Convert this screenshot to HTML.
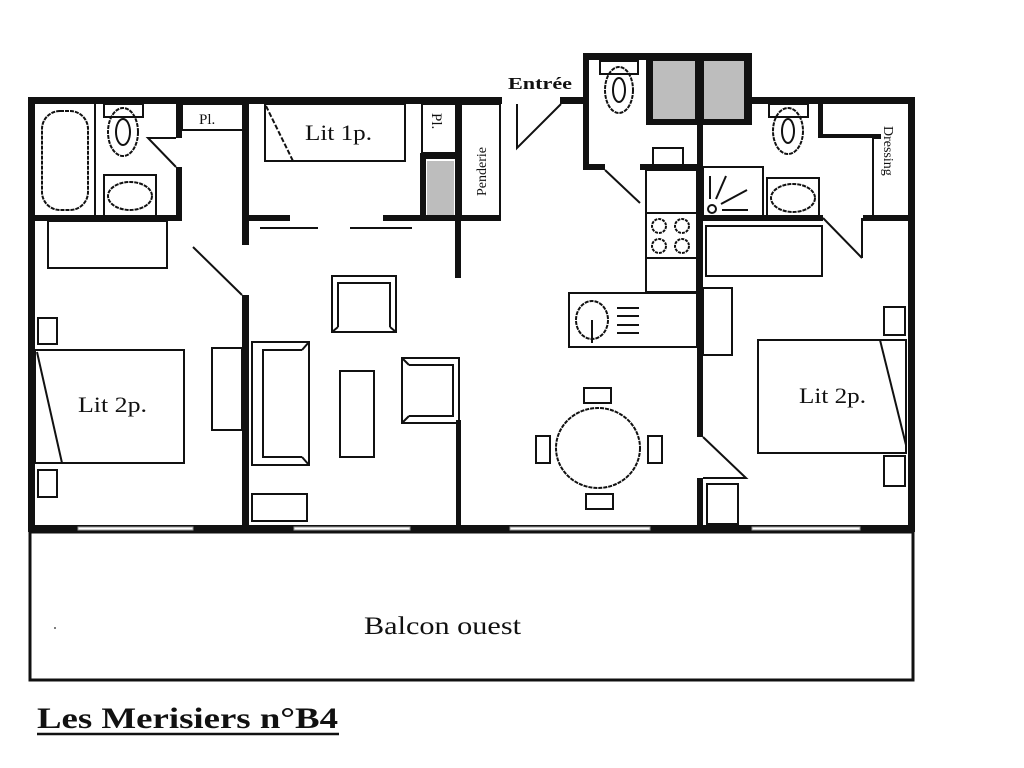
<!DOCTYPE html>
<html><head><meta charset="utf-8"><style>
html,body{margin:0;padding:0;background:#fff;}
svg{display:block;}
text{font-family:"Liberation Serif",serif;fill:#111;}
</style></head><body>
<svg width="1024" height="768" viewBox="0 0 1024 768" xmlns="http://www.w3.org/2000/svg">
<g fill="#111">
<rect x="28" y="97" width="474" height="7"/>
<rect x="560" y="97" width="26" height="7"/>
<rect x="746" y="97" width="169" height="7"/>
<rect x="28" y="97" width="7" height="435"/>
<rect x="908" y="97" width="7" height="435"/>
<rect x="28" y="525" width="887" height="7"/>
<rect x="583" y="53" width="169" height="7"/>
<rect x="583" y="53" width="6" height="117"/>
<rect x="746" y="53" width="6" height="51"/>
<rect x="583" y="164" width="22" height="6"/>
<rect x="640" y="164" width="63" height="6"/>
<rect x="646" y="57" width="106" height="68"/>
<rect x="697" y="57" width="6" height="380"/>
<rect x="697" y="478" width="6" height="54"/>
<rect x="28" y="215" width="154" height="6"/>
<rect x="176" y="104" width="6" height="34"/>
<rect x="176" y="167" width="6" height="54"/>
<rect x="242" y="104" width="7" height="141"/>
<rect x="242" y="295" width="7" height="237"/>
<rect x="242" y="215" width="48" height="6"/>
<rect x="383" y="215" width="78" height="6"/>
<rect x="455" y="104" width="6" height="174"/>
<rect x="456" y="420" width="5" height="107"/>
<rect x="420" y="153" width="41" height="6"/>
<rect x="420" y="153" width="6" height="65"/>
<rect x="461" y="215" width="40" height="6"/>
<rect x="703" y="215" width="120" height="6"/>
<rect x="863" y="215" width="52" height="6"/>
<rect x="818" y="104" width="5" height="34"/>
<rect x="818" y="134" width="57" height="4"/>
<rect x="873" y="134" width="8" height="5"/>
</g>
<g fill="#bdbdbd">
<rect x="653" y="61" width="42" height="58"/>
<rect x="704" y="61" width="40" height="58"/>
<rect x="427" y="161" width="27" height="54"/>
</g>
<g fill="#fff" stroke="#999" stroke-width="1">
<rect x="78" y="527" width="115" height="3"/>
<rect x="294" y="527" width="116" height="3"/>
<rect x="510" y="527" width="140" height="3"/>
<rect x="752" y="527" width="108" height="3"/>
</g>
<g fill="none" stroke="#111" stroke-width="2">
<rect x="30" y="532" width="883" height="148" stroke-width="3"/>
<polyline points="517,104 517,148 561,104"/>
<line x1="95" y1="104" x2="95" y2="216"/>
<rect x="42" y="111" width="46" height="99" rx="18" stroke-dasharray="4,1"/>
<rect x="104" y="104" width="39" height="13"/>
<ellipse cx="123" cy="132" rx="15" ry="24" stroke-dasharray="4,1"/>
<ellipse cx="123" cy="132" rx="7" ry="13"/>
<rect x="104" y="175" width="52" height="41"/>
<ellipse cx="130" cy="196" rx="22" ry="14" stroke-dasharray="4,1"/>
<polyline points="176,138 148,138 176,167"/>
<rect x="182" y="104" width="61" height="26"/>
<line x1="193" y1="247" x2="242" y2="295"/>
<rect x="265" y="104" width="140" height="57"/>
<line x1="266" y1="106" x2="293" y2="161" stroke-dasharray="5,2"/>
<rect x="422" y="104" width="35" height="49"/>
<rect x="461" y="104" width="39" height="114"/>
<line x1="260" y1="228" x2="318" y2="228"/>
<line x1="350" y1="228" x2="412" y2="228"/>
<rect x="48" y="221" width="119" height="47"/>
<rect x="38" y="318" width="19" height="26"/>
<rect x="35" y="350" width="149" height="113"/>
<line x1="37" y1="352" x2="62" y2="463"/>
<rect x="38" y="470" width="19" height="27"/>
<rect x="212" y="348" width="30" height="82"/>
<rect x="332" y="276" width="64" height="56"/>
<polyline points="338,327 338,283 390,283 390,327"/>
<line x1="332" y1="332" x2="338" y2="327"/><line x1="396" y1="332" x2="390" y2="327"/>
<rect x="252" y="342" width="57" height="123"/>
<polyline points="302,350 263,350 263,457 302,457"/>
<line x1="309" y1="342" x2="302" y2="350"/><line x1="309" y1="465" x2="302" y2="457"/>
<rect x="340" y="371" width="34" height="86"/>
<rect x="402" y="358" width="57" height="65"/>
<polyline points="409,365 453,365 453,416 409,416"/>
<line x1="402" y1="358" x2="409" y2="365"/><line x1="402" y1="423" x2="409" y2="416"/>
<rect x="252" y="494" width="55" height="27"/>
<rect x="600" y="61" width="38" height="13"/>
<ellipse cx="619" cy="90" rx="14" ry="23" stroke-dasharray="4,1"/>
<ellipse cx="619" cy="90" rx="6" ry="12"/>
<line x1="605" y1="170" x2="640" y2="203"/>
<rect x="653" y="148" width="30" height="17"/>
<rect x="646" y="170" width="51" height="122"/>
<line x1="646" y1="213" x2="697" y2="213"/>
<line x1="646" y1="258" x2="697" y2="258"/>
<circle cx="659" cy="226" r="7" stroke-dasharray="3,1"/>
<circle cx="682" cy="226" r="7" stroke-dasharray="3,1"/>
<circle cx="659" cy="246" r="7" stroke-dasharray="3,1"/>
<circle cx="682" cy="246" r="7" stroke-dasharray="3,1"/>
<rect x="569" y="293" width="128" height="54"/>
<ellipse cx="592" cy="320" rx="16" ry="19" stroke-dasharray="4,1"/>
<line x1="592" y1="320" x2="592" y2="343"/>
<line x1="617" y1="308" x2="639" y2="308"/><line x1="617" y1="316" x2="639" y2="316"/>
<line x1="617" y1="325" x2="639" y2="325"/><line x1="617" y1="333" x2="639" y2="333"/>
<ellipse cx="598" cy="448" rx="42" ry="40" stroke-dasharray="4,1"/>
<rect x="584" y="388" width="27" height="15"/>
<rect x="536" y="436" width="14" height="27"/>
<rect x="648" y="436" width="14" height="27"/>
<rect x="586" y="494" width="27" height="15"/>
<rect x="769" y="104" width="39" height="13"/>
<ellipse cx="788" cy="131" rx="15" ry="23" stroke-dasharray="4,1"/>
<ellipse cx="788" cy="131" rx="6" ry="12"/>
<rect x="703" y="167" width="60" height="50"/>
<circle cx="712" cy="209" r="4"/>
<line x1="710" y1="199" x2="710" y2="176"/>
<line x1="716" y1="199" x2="726" y2="176"/>
<line x1="721" y1="204" x2="747" y2="190"/>
<line x1="722" y1="210" x2="748" y2="210"/>
<rect x="767" y="178" width="52" height="39"/>
<ellipse cx="793" cy="198" rx="22" ry="14" stroke-dasharray="4,1"/>
<line x1="823" y1="218" x2="862" y2="258"/>
<line x1="862" y1="218" x2="862" y2="258"/>
<line x1="873" y1="137" x2="873" y2="218"/>
<rect x="706" y="226" width="116" height="50"/>
<rect x="703" y="288" width="29" height="67"/>
<rect x="884" y="307" width="21" height="28"/>
<rect x="758" y="340" width="148" height="113"/>
<line x1="880" y1="340" x2="906" y2="445"/>
<rect x="884" y="456" width="21" height="30"/>
<polyline points="703,437 746,478 703,478"/>
<rect x="707" y="484" width="31" height="40"/>
<line x1="37" y1="734" x2="339" y2="734" stroke-width="2.5"/>
</g>
<circle cx="55" cy="628" r="1" fill="#555"/>
<text x="508" y="89" font-size="17" font-weight="bold" textLength="64" lengthAdjust="spacingAndGlyphs">Entrée</text>
<text x="199" y="124" font-size="15">Pl.</text>
<text x="305" y="140" font-size="22" textLength="67" lengthAdjust="spacingAndGlyphs">Lit 1p.</text>
<text transform="translate(432,113) rotate(90)" font-size="15">Pl.</text>
<text transform="translate(486,196) rotate(-90)" font-size="14">Penderie</text>
<text transform="translate(884,126) rotate(90)" font-size="14">Dressing</text>
<text x="78" y="412" font-size="22" textLength="69" lengthAdjust="spacingAndGlyphs">Lit 2p.</text>
<text x="799" y="403" font-size="22" textLength="67" lengthAdjust="spacingAndGlyphs">Lit 2p.</text>
<text x="364" y="634" font-size="25" textLength="157" lengthAdjust="spacingAndGlyphs">Balcon ouest</text>
<text x="37" y="728" font-size="30" font-weight="bold" textLength="301" lengthAdjust="spacingAndGlyphs">Les Merisiers n°B4</text>
</svg>
</body></html>
